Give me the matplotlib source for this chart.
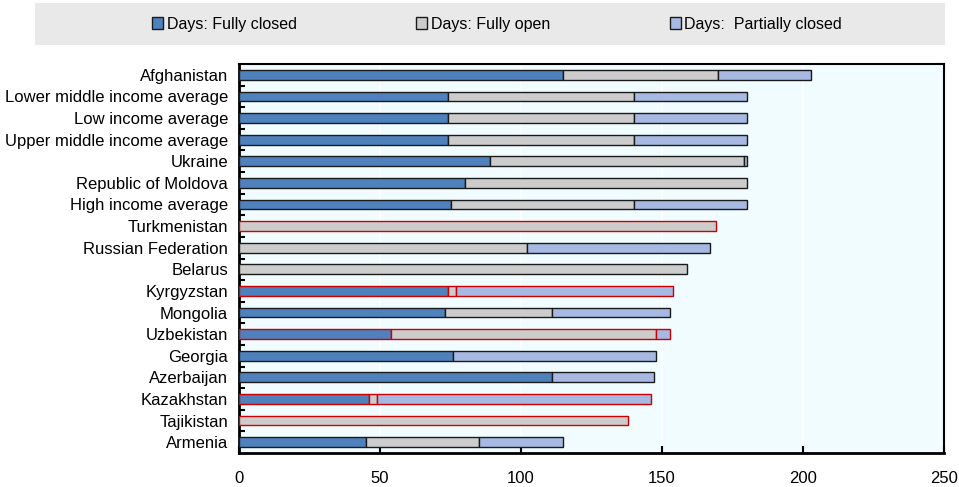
import numpy as np
import matplotlib
matplotlib.use("Agg")
import matplotlib.pyplot as plt
from matplotlib.patches import Rectangle, Patch

plt.rcParams['font.family'] = ['Liberation Sans', 'DejaVu Sans']

categories = ["Afghanistan", "Lower middle income average", "Low income average",
              "Upper middle income average", "Ukraine", "Republic of Moldova",
              "High income average", "Turkmenistan", "Russian Federation", "Belarus",
              "Kyrgyzstan", "Mongolia", "Uzbekistan", "Georgia", "Azerbaijan",
              "Kazakhstan", "Tajikistan", "Armenia"]
fully_closed = [115, 74, 74, 74, 89, 80, 75, 0, 0, 0, 74, 73, 54, 76, 111, 46, 0, 45]
fully_open = [55, 66, 66, 66, 90, 100, 65, 169, 102, 159, 3, 38, 94, 0, 0, 3, 138, 40]
partially_closed = [33, 40, 40, 40, 1, 0, 40, 0, 65, 0, 77, 42, 5, 72, 36, 97, 0, 30]
flagged = ["Turkmenistan", "Kyrgyzstan", "Uzbekistan", "Kazakhstan", "Tajikistan"]

c_closed = "#4F81BD"
c_open = "#CCCCCC"
c_partial = "#A7B9E3"

fig = plt.figure(figsize=(9.59, 4.87), dpi=100)
ax = fig.add_axes([239 / 959, 1 - 453 / 487, (944 - 239) / 959, (453 - 64) / 487])
ax.set_facecolor("#F0FCFF")

y = np.arange(len(categories))
closed = np.array(fully_closed)
opn = np.array(fully_open)
part = np.array(partially_closed)
edges = ["#CC0000" if c in flagged else "#1A1A1A" for c in categories]

h = 0.45
for vals, left, col in [(closed, 0, c_closed), (opn, closed, c_open), (part, closed + opn, c_partial)]:
    m = vals > 0
    ax.barh(y[m], vals[m], left=(left[m] if np.ndim(left) else 0), height=h, color=col,
            edgecolor=[e for e, k in zip(edges, m) if k], linewidth=1.0, zorder=3)

ax.set_xlim(0, 250)
ax.set_ylim(len(categories) - 0.5, -0.5)
ax.set_xticks([0, 50, 100, 150, 200, 250])
ax.set_yticks(y)
ax.set_yticklabels(categories, fontsize=12)
ax.set_yticks(np.arange(0.5, len(categories) - 1, 1), minor=True)
ax.tick_params(axis="y", which="major", length=0, pad=8)
ax.tick_params(axis="y", which="minor", direction="in", length=4, width=1.5, color="black")
ax.tick_params(axis="x", which="major", direction="in", length=5, width=1.5, labelsize=12, pad=13)
ax.xaxis.grid(True, color="white", linewidth=1.2, zorder=0)
ax.set_axisbelow(True)
for s in ["left", "bottom"]:
    ax.spines[s].set_linewidth(2)
for s in ["top", "right"]:
    ax.spines[s].set_linewidth(1.5)

# grey band behind the legend
fig.patches.append(Rectangle((35 / 959, 1 - 45 / 487), (945 - 35) / 959, 42 / 487,
                             transform=fig.transFigure, facecolor="#E9E9E9", edgecolor="none", zorder=0))
handles = [Patch(facecolor=c_closed, edgecolor="#1A1A1A", linewidth=1.0),
           Patch(facecolor=c_open, edgecolor="#1A1A1A", linewidth=1.0),
           Patch(facecolor=c_partial, edgecolor="#1A1A1A", linewidth=1.0)]
fig.legend(handles, ["Days: Fully closed", "Days: Fully open", "Days:  Partially closed"],
           ncol=3, loc="center", bbox_to_anchor=(497 / 959, 1 - 24 / 487), frameon=False,
           fontsize=11.5, handlelength=0.7, handleheight=0.7, handletextpad=0.2,
           columnspacing=7.5)

fig.savefig("out.png", dpi=100)
